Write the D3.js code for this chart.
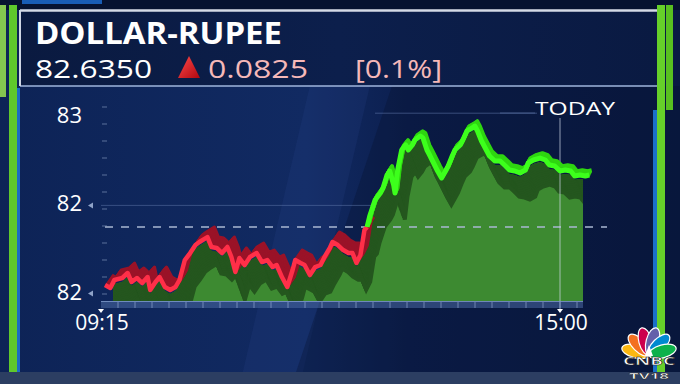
<!DOCTYPE html>
<html><head><meta charset="utf-8">
<script src="https://cdn.jsdelivr.net/npm/d3@7"></script>
<style>html,body{margin:0;padding:0;background:#0b1d48;overflow:hidden}text{font-family:"Open Sans",Lato,sans-serif}</style>
</head><body><svg id="c" width="680" height="384"></svg>
<script>
// ---------- data ----------
const titleText = "DOLLAR-RUPEE";
const lastValueText = "82.6350";
const changeText = "0.0825";
const changePctText = "[0.1%]";
const todayText = "TODAY";
const prevClose = 82.5525;
const times = ["09:18","09:22","09:25","09:31","09:35","09:38","09:42","09:46","09:50","09:52",
"09:56","09:59","10:03","10:07","10:11","10:14","10:18","10:22","10:26","10:29",
"10:35","10:38","10:42","10:46","10:50","10:53","10:56","10:59","11:03","11:07",
"11:12","11:16","11:20","11:24","11:27","11:31","11:35","11:39","11:41","11:45",
"11:48","11:52","11:56","12:00","12:03","12:07","12:09","12:13","12:17","12:21",
"12:24","12:27","12:30","12:33","12:35",
"12:37","12:39","12:41","12:45","12:47","12:50","12:52","12:55","12:56","12:58",
"13:01","13:04","13:06","13:09","13:11","13:15","13:17","13:20","13:22","13:25",
"13:28","13:31","13:34","13:36","13:39","13:41","13:45","13:47","13:50","13:54",
"13:56","13:58","14:01","14:05","14:07","14:11","14:15","14:19","14:22","14:26",
"14:30","14:34","14:36","14:40","14:45","14:49","14:52","14:56","15:00","15:04",
"15:08","15:11","15:15","15:19","15:22"];
const rates = [82.4604,82.4557,82.4684,82.4716,82.4795,82.4652,82.4716,82.4636,82.4731,82.4525,
82.4652,82.4731,82.4573,82.4525,82.4573,82.4684,82.5001,82.5112,82.5239,82.5287,
82.5366,82.5208,82.5192,82.5112,82.5208,82.5049,82.4811,82.5033,82.4922,82.5049,
82.5112,82.4969,82.5001,82.4890,82.4922,82.4731,82.4573,82.4843,82.5001,82.4954,
82.4922,82.4763,82.4890,82.4922,82.5049,82.5192,82.5287,82.5239,82.5160,82.5112,
82.5112,82.4954,82.5081,82.5477,82.5525,
82.5700,82.5827,82.5954,82.6065,82.6144,82.6350,82.6414,82.6192,82.6065,82.6430,
82.6747,82.6827,82.6747,82.6827,82.6906,82.6969,82.6938,82.6747,82.6668,82.6541,
82.6414,82.6303,82.6414,82.6493,82.6652,82.6747,82.6827,82.6906,82.7049,82.7096,
82.7128,82.7049,82.6890,82.6731,82.6652,82.6573,82.6573,82.6493,82.6430,82.6414,
82.6382,82.6430,82.6541,82.6589,82.6620,82.6589,82.6509,82.6493,82.6414,82.6430,
82.6414,82.6335,82.6350,82.6335,82.6350];
const yTickValues = [82.73, 82.59, 82.45];
const yTickLabels = ["83", "82", "82"];
const xTickTimes = ["09:15", "15:00"];

// ---------- setup ----------
const svg = d3.select("#c");
const W = 680, H = 384;
const HF = "'Liberation Sans', Arial, sans-serif";
const parse = d3.timeParse("%H:%M");
const data = times.map((t, i) => ({t: parse(t), v: rates[i]}));
const x = d3.scaleTime().domain([parse(xTickTimes[0]), parse(xTickTimes[1])]).range([101, 560]);
const y = d3.scaleLinear().domain([82.40, 82.80]).range([323.1, 71.1]);
const splitIdx = data.findIndex(d => d.v >= prevClose);
const redData = data.slice(0, splitIdx + 1);
const greenData = data.slice(splitIdx);

const defs = svg.append("defs");
const bg = defs.append("linearGradient").attr("id", "bg").attr("x1", 0).attr("x2", 1).attr("y1", 0).attr("y2", 0);
[[0, "#0d2356"], [0.45, "#112a62"], [0.6, "#0c1f4f"], [1, "#0a1a44"]].forEach(s => bg.append("stop").attr("offset", s[0]).attr("stop-color", s[1]));
const hg = defs.append("linearGradient").attr("id", "hg").attr("x1", 0).attr("x2", 1);
[[0, "#0a1a40"], [0.5, "#0c1f4c"], [1, "#0a1a42"]].forEach(s => hg.append("stop").attr("offset", s[0]).attr("stop-color", s[1]));
const tri = defs.append("linearGradient").attr("id", "tri").attr("x1", 0).attr("x2", 1).attr("y1", 0).attr("y2", 1);
[[0, "#ff4a4a"], [1, "#b00810"]].forEach(s => tri.append("stop").attr("offset", s[0]).attr("stop-color", s[1]));
const ax = defs.append("linearGradient").attr("id", "ax").attr("x1", 0).attr("x2", 0).attr("y1", 0).attr("y2", 1);
[[0, "#8da0c8"], [1, "#ffffff"]].forEach(s => ax.append("stop").attr("offset", s[0]).attr("stop-color", s[1]));

// background
svg.append("rect").attr("width", W).attr("height", H).attr("fill", "url(#bg)");
svg.append("polygon").attr("points", "330,0 390,0 300,384 240,384").attr("fill", "#2a4a90").attr("opacity", 0.18);
svg.append("polygon").attr("points", "392,86 680,86 680,384 292,384").attr("fill", "#050f2c").attr("opacity", 0.3);
svg.append("rect").attr("width", W).attr("height", 10).attr("fill", "#061230");
svg.append("rect").attr("x", 22).attr("width", 80).attr("height", 4).attr("fill", "#1d6fd6").attr("opacity", 0.8);
svg.append("rect").attr("y", 372).attr("width", W).attr("height", 12).attr("fill", "#2c3e62");

// header
svg.append("rect").attr("x", 20).attr("y", 10).attr("width", 637).attr("height", 76).attr("fill", "url(#hg)");
svg.append("line").attr("x1", 20).attr("x2", 657).attr("y1", 10.5).attr("y2", 10.5).attr("stroke", "#d4dae6").attr("stroke-width", 2.5);
svg.append("line").attr("x1", 20).attr("x2", 657).attr("y1", 86).attr("y2", 86).attr("stroke", "#9fb6dc").attr("stroke-width", 1.5);
svg.append("line").attr("x1", 20).attr("x2", 20).attr("y1", 10).attr("y2", 86).attr("stroke", "#cfd6e4").attr("stroke-width", 2);
svg.append("text").attr("x", 35).attr("y", 43.5).attr("font-family", HF).attr("font-size", 30).attr("font-weight", 700).attr("fill", "#fff")
  .attr("textLength", 247).attr("lengthAdjust", "spacingAndGlyphs").text(titleText);
svg.append("text").attr("x", 35).attr("y", 78).attr("font-family", HF).attr("font-size", 26).attr("fill", "#fff")
  .attr("textLength", 117).attr("lengthAdjust", "spacingAndGlyphs").text(lastValueText);
svg.append("path").attr("d", "M189,56 L200,78 L178,78 Z").attr("fill", "url(#tri)");
svg.append("text").attr("x", 208).attr("y", 78).attr("font-family", HF).attr("font-size", 26).attr("fill", "#f5b8b8")
  .attr("textLength", 100).attr("lengthAdjust", "spacingAndGlyphs").text(changeText);
svg.append("text").attr("x", 355).attr("y", 78).attr("font-family", HF).attr("font-size", 26).attr("fill", "#f5b8b8")
  .attr("textLength", 87).attr("lengthAdjust", "spacingAndGlyphs").text(changePctText);

// side bars
svg.append("rect").attr("x", 0).attr("y", 5).attr("width", 6).attr("height", 92).attr("fill", "#84c650");
svg.append("rect").attr("x", 9).attr("y", 5).attr("width", 8).attr("height", 367).attr("fill", "#5fc82c");
svg.append("rect").attr("x", 17).attr("y", 88).attr("width", 3).attr("height", 284).attr("fill", "#1c6cc4");
svg.append("rect").attr("x", 657).attr("y", 5).attr("width", 8).attr("height", 367).attr("fill", "#66d02a");
svg.append("rect").attr("x", 666).attr("y", 5).attr("width", 7).attr("height", 105).attr("fill", "#58c020");
svg.append("rect").attr("x", 653).attr("y", 110).attr("width", 4).attr("height", 262).attr("fill", "#1a70c8");

// grid
svg.append("line").attr("x1", 101).attr("x2", 575).attr("y1", y(yTickValues[1]) + 2).attr("y2", y(yTickValues[1]) + 2)
  .attr("stroke", "#6a82b4").attr("stroke-opacity", 0.45);
svg.append("line").attr("x1", 375).attr("x2", 537).attr("y1", y(yTickValues[0]) - 2).attr("y2", y(yTickValues[0]) - 2)
  .attr("stroke", "#6a82b4").attr("stroke-opacity", 0.5);

// area + shadow
const line = d3.line().x(d => x(d.t)).y(d => y(d.v));
const area = d3.area().x(d => x(d.t)).y0(301).y1(d => y(d.v) + 4);
defs.append("clipPath").attr("id", "rc").append("rect").attr("x", 113).attr("y", 0).attr("width", 470).attr("height", 301);
defs.append("clipPath").attr("id", "ac").append("path").attr("d", area(data));
const ga = svg.append("g").attr("clip-path", "url(#rc)");
ga.append("path").attr("d", area(data)).attr("fill", "#3d8a31");
const gs = ga.append("g").attr("clip-path", "url(#ac)");
d3.range(1, 15).forEach(k => {
  gs.append("path").attr("d", line(data)).attr("fill", "none").attr("stroke", "#24561e").attr("stroke-width", 4)
    .attr("transform", `translate(${k * 0.7},${k * 1.9})`);
});

// prev close dashed
svg.append("line").attr("x1", 105).attr("x2", 607).attr("y1", y(prevClose)).attr("y2", y(prevClose))
  .attr("stroke", "#a9b8d2").attr("stroke-width", 1.5).attr("stroke-dasharray", "8,8");

// today vertical
svg.append("line").attr("x1", x(parse(xTickTimes[1]))).attr("x2", x(parse(xTickTimes[1]))).attr("y1", 118).attr("y2", 310)
  .attr("stroke", "#d0d8e8").attr("stroke-opacity", 0.7);
svg.append("line").attr("x1", 500).attr("x2", 535).attr("y1", 113).attr("y2", 113).attr("stroke", "#6a82b4").attr("stroke-opacity", 0.5);

// red ribbon
d3.range(10, 0, -1).forEach(k => {
  svg.append("path").attr("d", line(redData)).attr("fill", "none").attr("stroke", "#9a1328").attr("stroke-width", 3)
    .attr("stroke-linejoin", "round").attr("transform", `translate(${k * 0.7},${-k * 1.0})`);
});
svg.append("path").attr("d", line(redData)).attr("fill", "none").attr("stroke", "#ff2f48").attr("stroke-width", 4.5).attr("stroke-linejoin", "round");
// green ribbon
d3.range(6, 0, -1).forEach(k => {
  svg.append("path").attr("d", line(greenData)).attr("fill", "none").attr("stroke", "#2fd611").attr("stroke-width", 4)
    .attr("stroke-linejoin", "round").attr("transform", `translate(${k * 0.4},${-k * 0.8})`);
});
svg.append("path").attr("d", line(greenData)).attr("fill", "none").attr("stroke", "#3dff1c").attr("stroke-width", 5).attr("stroke-linejoin", "round");

// x band
svg.append("rect").attr("x", 101).attr("y", 301).attr("width", 482).attr("height", 7).attr("fill", "#4a6aa2").attr("opacity", 0.55);
svg.append("line").attr("x1", 101).attr("x2", 583).attr("y1", 301.5).attr("y2", 301.5).attr("stroke", "#9ab6e4").attr("stroke-opacity", 0.6);
d3.range(118, 583, 17).forEach(px => {
  svg.append("line").attr("x1", px).attr("x2", px).attr("y1", 302).attr("y2", 308).attr("stroke", "#b4c8ec").attr("stroke-opacity", 0.5);
});

// y axis
svg.append("line").attr("x1", 101).attr("x2", 101).attr("y1", 97).attr("y2", 312).attr("stroke", "url(#ax)").attr("stroke-width", 1.8);
d3.range(107, 300, 17).forEach(py => {
  svg.append("line").attr("x1", 102).attr("x2", 107).attr("y1", py).attr("y2", py).attr("stroke", "#8fa3c8").attr("stroke-opacity", 0.6);
});
yTickValues.forEach((v, i) => {
  svg.append("text").attr("x", 82).attr("y", y(v)).attr("dy", "0.36em").attr("text-anchor", "end")
    .attr("font-size", 22).attr("fill", "#fff").text(yTickLabels[i]);
  if (i > 0) svg.append("path").attr("d", `M88,${y(v) + 2} L93,${y(v) - 1} L93,${y(v) + 5} Z`).attr("fill", "#8fa3c8");
});
// x labels
xTickTimes.forEach(t => {
  const px = x(parse(t));
  svg.append("text").attr("x", px + 1).attr("y", 330).attr("text-anchor", "middle").attr("font-size", 21).attr("fill", "#fff").text(t);
  svg.append("path").attr("d", `M${px - 3},309 L${px + 3},309 L${px},313 Z`).attr("fill", "#fff");
});
svg.append("text").attr("x", 575).attr("y", 115).attr("text-anchor", "middle").attr("font-size", 19).attr("fill", "#fff")
  .attr("textLength", 80).attr("lengthAdjust", "spacingAndGlyphs").text(todayText);

// logo
const lg = svg.append("g").attr("transform", "translate(649,355)");
const petals = ["#fcb711", "#f37021", "#cc004c", "#6460aa", "#0089d0", "#0db14b"];
petals.forEach((c, i) => {
  const a = -75 + i * 30;
  lg.append("ellipse").attr("cx", 0).attr("cy", -14).attr("rx", 6.5).attr("ry", 14)
    .attr("transform", `rotate(${a})`).attr("fill", c).attr("stroke", "#fff").attr("stroke-width", 1.2);
});
lg.append("path").attr("d", "M-4,1 L0,-10 L4,1 Z").attr("fill", "#fff");
svg.append("text").attr("x", 649).attr("y", 365).attr("text-anchor", "middle").attr("font-family", HF).attr("font-size", 11).attr("font-weight", 700)
  .attr("fill", "#fff").attr("stroke", "#222").attr("stroke-width", 0.5).attr("textLength", 52).attr("lengthAdjust", "spacingAndGlyphs").text("CNBC");
svg.append("text").attr("x", 649).attr("y", 379).attr("text-anchor", "middle").attr("font-family", HF).attr("font-size", 9.5).attr("font-weight", 700)
  .attr("fill", "#fff").attr("stroke", "#222").attr("stroke-width", 0.4).attr("textLength", 40).attr("lengthAdjust", "spacingAndGlyphs").text("TV18");
</script></body></html>
